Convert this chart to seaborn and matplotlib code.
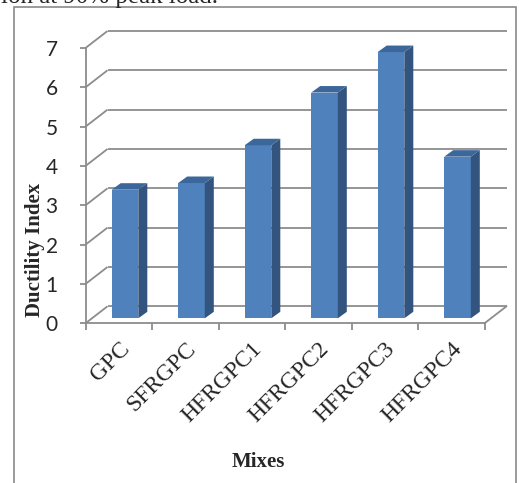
import numpy as np
import matplotlib
matplotlib.use("Agg")
import matplotlib.pyplot as plt
from matplotlib.patches import Polygon, Rectangle
import seaborn as sns

# ---- data ----
mixes = ["GPC", "SFRGPC", "HFRGPC1", "HFRGPC2", "HFRGPC3", "HFRGPC4"]
ductility = [3.27, 3.44, 4.40, 5.74, 6.77, 4.11]
y_ticks = [0, 1, 2, 3, 4, 5, 6, 7]

# ---- styling ----
sns.set_style("white")
plt.rcParams["font.family"] = ["Liberation Serif", "DejaVu Serif"]

FRONT = "#4F81BD"
SIDE = "#32547F"
TOP = "#3C679B"
GRID = "#8C8C8C"
SERIF = "Liberation Serif"
SANS = "Lato"

W, H = 519, 483
fig = plt.figure(figsize=(W / 100, H / 100), dpi=100)

# front plane of the 3-D box, in figure pixels
left_px, right_px = 85.5, 484.5
base_px, top_px = 323.3, 48.0
ax = fig.add_axes([left_px / W, (H - base_px) / H,
                   (right_px - left_px) / W, (base_px - top_px) / H])
ax.set_xlim(-0.5, len(mixes) - 0.5)
ax.set_ylim(0, 7)

px_per_cat = (right_px - left_px) / len(mixes)
px_per_val = (base_px - top_px) / 7.0


def depth(dx_px, dy_px):
    """Convert a pixel depth offset into data units."""
    return dx_px / px_per_cat, dy_px / px_per_val


back_dx, back_dy = depth(22, 17)      # back wall
bar_fx, bar_fy = depth(6.25, 5)       # front face of the bars
bar_dx, bar_dy = depth(9, 6.5)        # bar thickness

lw = 1.3
x_lo, x_hi = -0.5, len(mixes) - 0.5

# back wall gridlines with their diagonal returns to the value axis
for v in y_ticks:
    ax.plot([x_lo, x_lo + back_dx], [v, v + back_dy], color=GRID, lw=lw,
            clip_on=False, zorder=1, solid_capstyle="butt")
    ax.plot([x_lo + back_dx, x_hi + back_dx], [v + back_dy, v + back_dy],
            color=GRID, lw=lw, clip_on=False, zorder=1, solid_capstyle="butt")
# right edge of the floor
ax.plot([x_hi, x_hi + back_dx], [0, back_dy], color=GRID, lw=lw,
        clip_on=False, zorder=1)

# bars
sns.barplot(x=mixes, y=ductility, color=FRONT, saturation=1, width=0.40,
            ax=ax, zorder=3, linewidth=0)

for p in ax.patches:
    x0 = p.get_x() + bar_fx
    w = p.get_width()
    h = p.get_height()
    p.set_x(x0)
    p.set_y(bar_fy)
    p.set_clip_on(False)
    y_top = bar_fy + h
    side = Polygon([(x0 + w, bar_fy), (x0 + w, y_top),
                    (x0 + w + bar_dx, y_top + bar_dy),
                    (x0 + w + bar_dx, bar_fy + bar_dy)],
                   closed=True, facecolor=SIDE, edgecolor="none",
                   zorder=3, clip_on=False)
    top = Polygon([(x0, y_top), (x0 + w, y_top),
                   (x0 + w + bar_dx, y_top + bar_dy),
                   (x0 + bar_dx, y_top + bar_dy)],
                  closed=True, facecolor=TOP, edgecolor="none",
                  zorder=3, clip_on=False)
    ax.add_patch(side)
    ax.add_patch(top)

# axes frame: only the front value axis and the front floor edge
for s in ["top", "right"]:
    ax.spines[s].set_visible(False)
for s in ["left", "bottom"]:
    ax.spines[s].set_color(GRID)
    ax.spines[s].set_linewidth(lw)

ax.set_yticks(y_ticks)
ax.set_yticklabels([str(t) for t in y_ticks], fontfamily=SANS, fontsize=15)
ax.tick_params(axis="y", direction="out", length=4, width=lw, color=GRID,
               pad=16, left=True)

ax.set_xticks(range(len(mixes)))
ax.set_xticklabels(mixes, rotation=45, ha="right", va="top",
                   rotation_mode="anchor", fontfamily=SERIF, fontsize=17)
ax.tick_params(axis="x", which="major", length=0, pad=11)
ax.set_xticks(np.arange(-0.5, len(mixes)), minor=True)
ax.tick_params(axis="x", which="minor", direction="out", length=5,
               width=lw, color=GRID, bottom=True)
ax.set_xlabel("")
ax.set_ylabel("")
ax.grid(False)

# axis titles
fig.text(35 / W, 1 - 250 / H, "Ductility Index", rotation=90, ha="center",
         va="center", fontfamily=SERIF, fontweight="bold", fontsize=15)
fig.text(258 / W, 1 - 462 / H, "Mixes", ha="center", va="center",
         fontfamily=SERIF, fontweight="bold", fontsize=15)

# caption line above the chart box
fig.text(1 / W, 1 - 3 / H, "ion at 90% peak load.", ha="left",
         va="baseline", fontfamily=SERIF, fontsize=18)

# chart area border
fig.add_artist(Rectangle((14 / W, -0.05), (516 - 14) / W, (H - 7) / H + 0.05,
                         transform=fig.transFigure, facecolor="none",
                         edgecolor="#8A8A8A", lw=1.2, zorder=0))

fig.savefig("out.png", dpi=100)
